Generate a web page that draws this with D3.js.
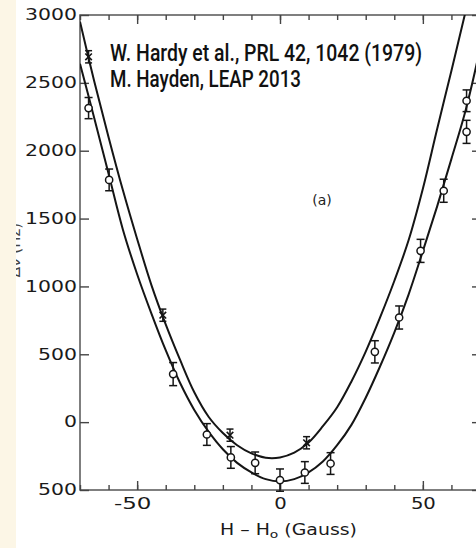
<!DOCTYPE html>
<html>
<head>
<meta charset="utf-8">
<script src="https://cdn.jsdelivr.net/npm/d3@7"></script>
<style>
    body { margin: 0; background: #fff; }
    svg { display: block; }
    .tick text { font-family: "DejaVu Sans", sans-serif; fill: #1a1a1a; }
    .axis path.domain { display: none; }
    .axis line { stroke: #444; stroke-width: 1.4; }
    .fit { fill: none; stroke: #151515; stroke-width: 2; }
    .err { stroke: #151515; stroke-width: 1.5; }
</style>
</head>
<body>
<div id="chart"></div>
<script>
// ====== Hydrogen hyperfine frequency shift vs field offset ======

// axis ticks
const xMinorTicks = [-70, -60, -50, -40, -30, -20, -10, 0, 10, 20, 30, 40, 50, 60, 70];
const xMajorTicks = [-50, 0, 50];
const xMajorLabels = ["-50", "0", "50"];
const yTicks = [-500, 0, 500, 1000, 1500, 2000, 2500, 3000];
const yTickLabels = ["500", "0", "500", "1000", "1500", "2000", "2500", "3000"];

// upper fitted curve
const upperFitH = [-70, -65, -60, -55, -50, -45, -40, -35, -30, -25, -20, -15, -10, -5, 0, 5, 10, 15, 20, 25, 30, 35, 40, 45, 50, 55, 60, 65];
const upperFitV = [2950, 2510, 2100, 1710, 1350, 1010, 720, 460, 220, 40, -80, -170, -230, -262, -260, -225, -150, -30, 110, 300, 520, 770, 1040, 1340, 1720, 2160, 2590, 3030];

// lower fitted curve
const lowerFitH = [-70, -65, -60, -55, -50, -45, -40, -35, -30, -25, -20, -15, -10, -5, 0, 5, 10, 15, 20, 25, 30, 35, 40, 45, 50, 55, 60, 65, 70];
const lowerFitV = [2640, 2240, 1830, 1420, 1090, 800, 530, 290, 90, -70, -200, -300, -370, -420, -437, -420, -370, -290, -170, -20, 180, 410, 660, 940, 1260, 1590, 1940, 2300, 2750];

// Hardy et al. points (crosses)
const hardyH = [-67, -41, -17.5, 9.3];
const hardyV = [2692, 788, -96, -152];
const hardyErr = [45, 45, 45, 45];

// Hayden points (open circles)
const haydenH = [-67, -59.8, -37.4, -25.6, -17.2, -8.7, 0, 8.7, 17.7, 33.2, 41.7, 49.2, 57.3, 65.3, 65.3];
const haydenV = [2314, 1785, 354, -91, -260, -300, -427, -371, -305, 518, 771, 1262, 1705, 2139, 2368];
const haydenErr = [78, 80, 85, 80, 80, 80, 82, 80, 80, 82, 85, 85, 85, 85, 80];

function buildChart () {
    let margin = {top: 15, left: 80},
        width = 400,
        height = 475;

    let x = d3.scaleLinear().domain([-70, 70]).range([0, width]);
    let y = d3.scaleLinear().domain([-500, 3000]).range([height, 0]);

    let root = d3.select('#chart').append("svg")
        .attr("width", 476)
        .attr("height", 548);

    root.append("rect").attr("width", 476).attr("height", 548).style("fill", "#fff");

    // cut-off y axis title, mostly hidden behind the cream strip
    root.append("text")
        .attr("transform", "translate(20,250) rotate(-90)")
        .style("text-anchor", "middle")
        .style("font-family", "DejaVu Sans, sans-serif")
        .style("font-size", "15px")
        .style("fill", "#444")
        .text("Δν (Hz)");

    root.append("rect").attr("width", 16).attr("height", 548).style("fill", "#fcf6e6");

    let svg = root.append("g")
        .attr("transform", "translate(" + margin.left + "," + margin.top + ")");

    svg.append("clipPath").attr("id", "plotclip")
        .append("rect").attr("width", width).attr("height", height);

    // frame
    svg.append("rect")
        .attr("width", width)
        .attr("height", height)
        .style("fill", "none")
        .style("stroke", "#555")
        .style("stroke-width", 1.5);

    // bottom axis: minor + major ticks pointing inward
    svg.append("g")
        .attr("class", "x axis")
        .attr("transform", "translate(0," + height + ")")
        .call(d3.axisBottom(x).tickValues(xMinorTicks).tickSize(-5).tickFormat(""));

    let xMajor = svg.append("g")
        .attr("class", "x axis")
        .attr("transform", "translate(0," + height + ")")
        .call(d3.axisBottom(x).tickValues(xMajorTicks).tickSize(-9).tickPadding(8)
            .tickFormat(function(d, i) { return xMajorLabels[i]; }));

    xMajor.selectAll("text")
        .style("font-size", "15px")
        .attr("dx", function(d, i) { return xMajorLabels[i][0] === "-" ? -5 : 0; })
        .attr("textLength", function(d, i) { return xMajorLabels[i].length * 12.5; })
        .attr("lengthAdjust", "spacingAndGlyphs");

    // top axis
    svg.append("g")
        .attr("class", "x axis")
        .call(d3.axisTop(x).tickValues(xMinorTicks).tickSize(-5).tickFormat(""));
    svg.append("g")
        .attr("class", "x axis")
        .call(d3.axisTop(x).tickValues(xMajorTicks).tickSize(-9).tickFormat(""));

    // left axis
    let yAx = svg.append("g")
        .attr("class", "y axis")
        .call(d3.axisLeft(y).tickValues(yTicks).tickSize(-9).tickPadding(3)
            .tickFormat(function(d, i) { return yTickLabels[i]; }));

    yAx.selectAll("text")
        .style("font-size", "15px")
        .attr("textLength", function(d, i) { return yTickLabels[i].length * 13; })
        .attr("lengthAdjust", "spacingAndGlyphs");

    // right axis (mostly outside the picture)
    svg.append("g")
        .attr("class", "y axis")
        .attr("transform", "translate(" + width + ",0)")
        .call(d3.axisRight(y).tickValues(yTicks).tickSize(-8).tickFormat(""));

    // axis label
    let xl = root.append("text")
        .attr("x", 220)
        .attr("y", 535)
        .style("font-family", "DejaVu Sans, sans-serif")
        .style("font-size", "15px")
        .style("fill", "#1a1a1a")
        .attr("textLength", 137)
        .attr("lengthAdjust", "spacingAndGlyphs");
    xl.append("tspan").text("H – H");
    xl.append("tspan").attr("dy", 3).style("font-size", "11px").text("o");
    xl.append("tspan").attr("dy", -3).text(" (Gauss)");

    // panel tag
    svg.append("text")
        .attr("x", 242)
        .attr("y", 190)
        .style("text-anchor", "middle")
        .style("font-family", "DejaVu Sans, sans-serif")
        .style("font-size", "14px")
        .style("fill", "#222")
        .text("(a)");

    // fitted curves
    let line = d3.line()
        .x(function(d) { return x(d[0]); })
        .y(function(d) { return y(d[1]); })
        .curve(d3.curveCatmullRom.alpha(0.5));

    let curves = svg.append("g").attr("clip-path", "url(#plotclip)");
    curves.append("path").attr("class", "fit").attr("d", line(d3.zip(upperFitH, upperFitV)));
    curves.append("path").attr("class", "fit").attr("d", line(d3.zip(lowerFitH, lowerFitV)));

    // error bars
    function errorBars (hs, vs, es, cap) {
        let g = svg.append("g");
        hs.forEach(function(h, i) {
            let cx = x(h), lo = y(vs[i] - es[i]), hi = y(vs[i] + es[i]);
            g.append("line").attr("class", "err").attr("x1", cx).attr("x2", cx).attr("y1", lo).attr("y2", hi);
            g.append("line").attr("class", "err").attr("x1", cx - cap).attr("x2", cx + cap).attr("y1", lo).attr("y2", lo);
            g.append("line").attr("class", "err").attr("x1", cx - cap).attr("x2", cx + cap).attr("y1", hi).attr("y2", hi);
        });
    }
    errorBars(haydenH, haydenV, haydenErr, 4);
    errorBars(hardyH, hardyV, hardyErr, 3.5);

    svg.selectAll(".dot")
        .data(d3.zip(haydenH, haydenV))
        .enter().append("circle")
        .attr("class", "dot")
        .attr("r", 3.6)
        .attr("cx", function(d) { return x(d[0]); })
        .attr("cy", function(d) { return y(d[1]); })
        .style("fill", "#fff")
        .style("stroke", "#151515")
        .style("stroke-width", 1.5);

    let timesType = d3.symbolTimes || d3.symbolCross;
    svg.selectAll(".cross")
        .data(d3.zip(hardyH, hardyV))
        .enter().append("path")
        .attr("class", "cross")
        .attr("d", d3.symbol().type(timesType).size(30))
        .attr("transform", function(d) {
            return "translate(" + x(d[0]) + "," + y(d[1]) + ")" + (d3.symbolTimes ? "" : " rotate(45)");
        })
        .style("fill", d3.symbolTimes ? "none" : "#151515")
        .style("stroke", "#151515")
        .style("stroke-width", 1.6);

    // legend / source text
    let src = root.append("g")
        .style("font-family", "Roboto, Liberation Sans Narrow, sans-serif")
        .style("font-size", "24px")
        .style("font-weight", "500")
        .style("fill", "#111");
    src.append("text").attr("x", 110).attr("y", 61)
        .attr("textLength", 312).attr("lengthAdjust", "spacingAndGlyphs")
        .text("W. Hardy et al., PRL 42, 1042 (1979)");
    src.append("text").attr("x", 110).attr("y", 87)
        .attr("textLength", 191).attr("lengthAdjust", "spacingAndGlyphs")
        .text("M. Hayden, LEAP 2013");
}

buildChart();
</script>
</body>
</html>
